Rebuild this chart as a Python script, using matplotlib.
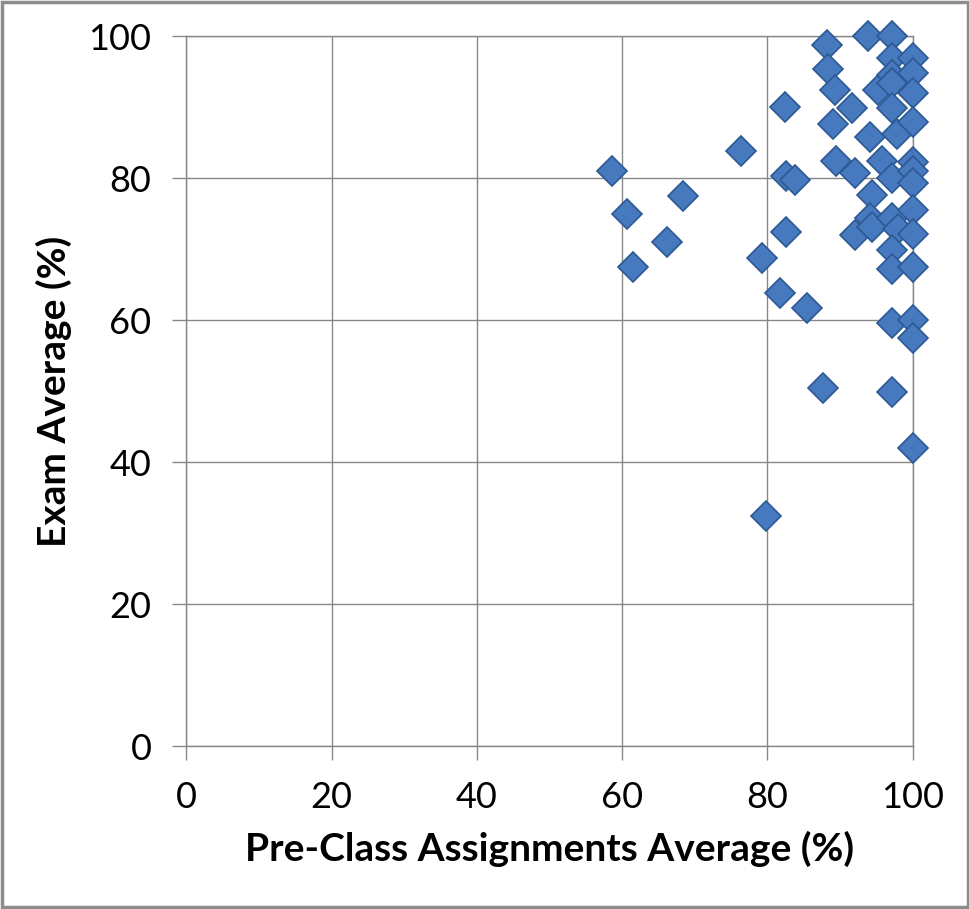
import matplotlib.pyplot as plt
from matplotlib.patches import Rectangle

# values
pre_class = [58.6, 60.7, 61.5, 66.2, 68.4, 76.4, 79.2, 79.8, 81.7, 82.4,
             82.6, 82.6, 83.8, 85.4, 87.6, 88.2, 88.4, 89.3, 89.0, 89.5,
             91.7, 92.0, 92.0, 93.8, 94.1, 94.4, 94.1, 94.4, 95.2, 95.7,
             97.2, 97.2, 97.1, 97.2, 97.2, 97.8, 97.2, 97.2, 97.9, 97.2,
             97.1, 97.1, 97.1, 100, 100, 100, 100, 100, 100, 100,
             100, 100, 100, 100, 100, 100]
exam = [81.1, 75.0, 67.5, 71.0, 77.5, 83.9, 68.8, 32.5, 63.8, 90.0,
        72.5, 80.3, 79.7, 61.7, 50.4, 98.8, 95.4, 92.4, 87.7, 82.5,
        89.9, 80.7, 72.0, 100.0, 85.8, 77.6, 74.4, 73.1, 92.4, 82.5,
        100.0, 97.0, 94.5, 93.4, 89.9, 86.3, 80.1, 74.4, 72.8, 69.9,
        67.3, 59.6, 49.9, 96.9, 94.8, 92.0, 87.9, 82.3, 81.0, 79.3,
        75.5, 72.2, 67.5, 60.0, 57.5, 42.0]

ticks = [0, 20, 40, 60, 80, 100]
grid_col = '#878787'

plt.rcParams['font.family'] = ['Lato', 'DejaVu Sans']

fig = plt.figure(figsize=(9.7, 9.09), dpi=100)
ax = fig.add_axes([0.192, 0.179, 0.749, 0.781])

ax.plot(pre_class, exam, linestyle='none', marker='D', markersize=15,
        markerfacecolor='#4779BE', markeredgecolor='#2D5993',
        markeredgewidth=1.2, clip_on=False, zorder=3)

ax.set_xlim(0, 100)
ax.set_ylim(0, 100)
ax.set_xticks(ticks)
ax.set_yticks(ticks)
ax.grid(True, color=grid_col, linewidth=1)
ax.set_axisbelow(True)
for s in ax.spines.values():
    s.set_color(grid_col)
    s.set_linewidth(1)
ax.tick_params(direction='out', length=10, width=1, color=grid_col,
               labelsize=26, pad=15)

ax.set_xlabel('Pre-Class Assignments Average (%)', fontsize=28,
              fontweight='bold', labelpad=12)
ax.set_ylabel('Exam Average (%)', fontsize=28, fontweight='bold',
              labelpad=12)

fig.patches.append(Rectangle((0.002, 0.002), 0.996, 0.996,
                             transform=fig.transFigure, fill=False,
                             edgecolor='#8c8c8c', linewidth=2.5))

fig.savefig('out.png', dpi=100)
